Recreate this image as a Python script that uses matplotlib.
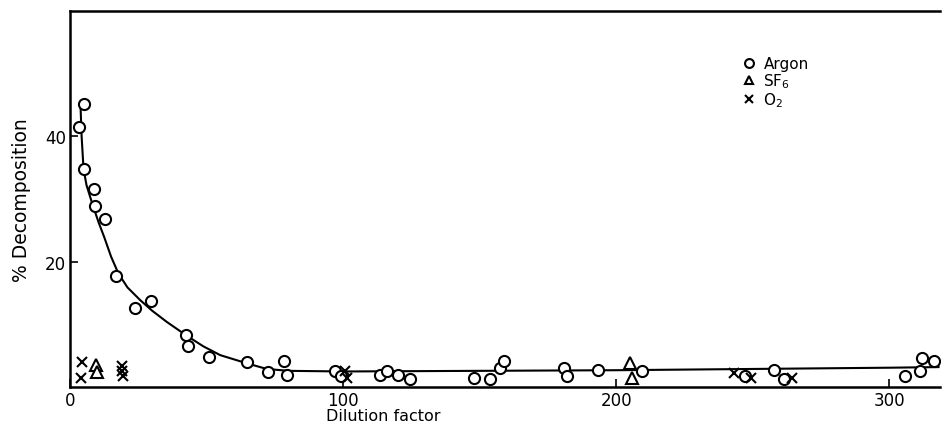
import matplotlib.pyplot as plt
import numpy as np

# Argon (circles)
argon_x = [4.9, 3.3, 4.9, 8.8, 9.2, 12.8, 16.8, 23.8, 29.7, 42.5, 43.0, 50.7, 64.7,
           72.6, 78.4, 79.4, 97.0, 99.2, 113.5, 116.2, 119.9, 124.3, 148.0, 153.8,
           157.5, 159.0, 180.7, 181.9, 193.3, 209.4, 247.3, 257.6, 261.3, 305.9,
           311.4, 312.0, 316.2]
argon_y = [45.2, 41.5, 34.8, 31.6, 28.9, 26.8, 17.7, 12.7, 13.8, 8.3, 6.6, 4.8, 4.0,
           2.4, 4.1, 2.0, 2.6, 1.7, 2.0, 2.6, 1.9, 1.3, 1.4, 1.3,
           3.1, 4.1, 3.0, 1.8, 2.7, 2.5, 1.7, 2.7, 1.3, 1.7,
           2.5, 4.7, 4.1]

# SF6 (triangles)
sf6_x = [9.5, 10.0, 205.1, 205.7]
sf6_y = [3.6, 2.4, 3.8, 1.5]

# O2 (crosses)
o2_x = [4.3, 3.9, 18.9, 18.9, 19.2, 100.7, 101.3, 243.0, 249.5, 264.3]
o2_y = [4.0, 1.5, 3.3, 2.6, 1.7, 2.6, 1.5, 2.2, 1.4, 1.5]

# fitted curve
curve_x = [3.8, 4.2, 4.9, 6, 8, 10.4, 12.5, 15, 17.7, 21, 25.6, 30, 35.4, 42.7,
           48.8, 55, 64.7, 72, 80, 100, 150, 200, 250, 300, 318]
curve_y = [44.8, 40.0, 34.8, 32.2, 29.4, 26.3, 23.9, 20.8, 18.1, 15.9, 13.9, 12.2,
           10.4, 8.2, 6.5, 5.1, 3.8, 2.9, 2.6, 2.5, 2.6, 2.7, 2.9, 3.1, 3.2]

fig = plt.figure(figsize=(9.48, 4.27), dpi=100)
ax = fig.add_axes([0.074, 0.091, 0.918, 0.881])

ax.plot(curve_x, curve_y, color='black', lw=1.5, zorder=2)
mk = dict(linestyle='none', color='black', markerfacecolor='white', zorder=3)
ax.plot(argon_x, argon_y, marker='o', ms=8, mew=1.5, label='Argon', **mk)
ax.plot(sf6_x, sf6_y, marker='^', ms=8, mew=1.5, label='SF$_6$', **mk)
ax.plot(o2_x, o2_y, marker='x', ms=7, mew=1.5, label='O$_2$', **mk)

ax.set_xlim(0, 318.7)
ax.set_ylim(0, 60)
ax.set_xticks([0, 100, 200, 300])
ax.set_yticks([20, 40])
ax.tick_params(direction='in', length=6, width=1.2, labelsize=12, pad=3)
for s in ['left', 'bottom', 'top']:
    ax.spines[s].set_linewidth(1.8)
ax.spines['right'].set_visible(False)

ax.set_xlabel('Dilution factor', fontsize=11.5)
ax.xaxis.set_label_coords(0.36, -0.055)
ax.set_ylabel('% Decomposition', fontsize=13.5, labelpad=10)

ax.legend(loc='upper left', bbox_to_anchor=(0.765, 0.9), frameon=False,
          fontsize=11, handlelength=0.7, handletextpad=0.6, labelspacing=0.0,
          borderpad=0, markerscale=0.8, handleheight=0.5)

fig.savefig('out.png', dpi=100)
